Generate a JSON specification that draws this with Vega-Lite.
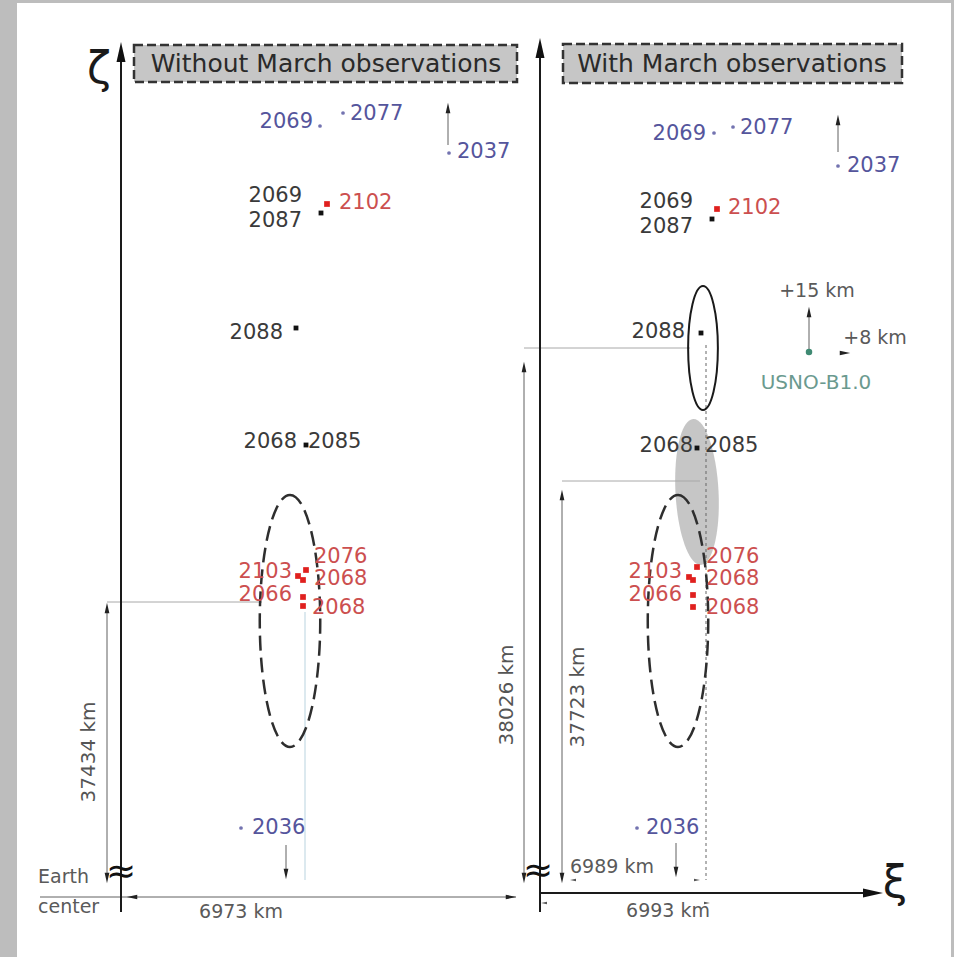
{
  "$schema": "https://vega.github.io/schema/vega-lite/v6.json",
  "width": 954,
  "height": 957,
  "autosize": {"type": "fit", "contains": "padding"},
  "padding": {"left": 17, "top": 3, "right": 3, "bottom": 0},
  "background": "#bdbdbd",
  "config": {"view": {"stroke": null, "fill": "#ffffff"}, "font": "DejaVu Sans"},
  "datasets": {
    "blob": [{"x": 697, "y": 492}],
    "guides": [
      {"x": 107, "y": 602, "x2": 262, "y2": 602},
      {"x": 524, "y": 348, "x2": 690, "y2": 348},
      {"x": 562, "y": 481, "x2": 700, "y2": 481}
    ],
    "dotted": [
      {"x": 706, "y": 345, "x2": 706, "y2": 880}
    ],
    "faint": [
      {"x": 305, "y": 612, "x2": 305, "y2": 880}
    ],
    "axes": [
      {"x": 121, "y": 60, "x2": 121, "y2": 912},
      {"x": 540, "y": 56, "x2": 540, "y2": 912},
      {"x": 540, "y": 893, "x2": 873, "y2": 893}
    ],
    "dims": [
      {"x": 107, "y": 608, "x2": 107, "y2": 878},
      {"x": 524, "y": 367, "x2": 524, "y2": 878},
      {"x": 562, "y": 495, "x2": 562, "y2": 878},
      {"x": 40, "y": 897, "x2": 516, "y2": 897},
      {"x": 448, "y": 108, "x2": 448, "y2": 145},
      {"x": 838, "y": 120, "x2": 838, "y2": 152},
      {"x": 286, "y": 845, "x2": 286, "y2": 874},
      {"x": 676, "y": 843, "x2": 676, "y2": 872},
      {"x": 809, "y": 312, "x2": 809, "y2": 352}
    ],
    "dashedEllipses": [{"x": 290, "y": 621}, {"x": 678, "y": 621}],
    "solidEllipse": [{"x": 703, "y": 348}],
    "boxes": [
      {"x": 134, "y": 45, "x2": 517, "y2": 82, "text": "Without March observations", "cx": 326, "cy": 64},
      {"x": 563, "y": 44, "x2": 902, "y2": 83, "text": "With March observations", "cx": 732, "cy": 64}
    ],
    "axisHeads": [
      {"x": 121, "y": 52, "dir": "up"},
      {"x": 540, "y": 48, "dir": "up"},
      {"x": 873, "y": 893, "dir": "right"}
    ],
    "dimHeads": [
      {"x": 107, "y": 608, "dir": "up"},
      {"x": 107, "y": 878, "dir": "down"},
      {"x": 524, "y": 367, "dir": "up"},
      {"x": 524, "y": 878, "dir": "down"},
      {"x": 562, "y": 495, "dir": "up"},
      {"x": 562, "y": 878, "dir": "down"},
      {"x": 132, "y": 897, "dir": "left"},
      {"x": 511, "y": 897, "dir": "right"},
      {"x": 448, "y": 108, "dir": "up"},
      {"x": 838, "y": 120, "dir": "up"},
      {"x": 286, "y": 874, "dir": "down"},
      {"x": 676, "y": 872, "dir": "down"},
      {"x": 809, "y": 312, "dir": "up"},
      {"x": 845, "y": 353, "dir": "right"}
    ],
    "tinyHeads": [
      {"x": 573, "y": 880, "dir": "left"},
      {"x": 697, "y": 880, "dir": "right"},
      {"x": 544, "y": 903, "dir": "left"},
      {"x": 707, "y": 903, "dir": "right"}
    ],
    "pts": [
      {"x": 320, "y": 126, "set": "blue"},
      {"x": 343, "y": 113, "set": "blue"},
      {"x": 449, "y": 153, "set": "blue"},
      {"x": 241, "y": 828, "set": "blue"},
      {"x": 714, "y": 133, "set": "blue"},
      {"x": 733, "y": 127, "set": "blue"},
      {"x": 838, "y": 166, "set": "blue"},
      {"x": 637, "y": 828, "set": "blue"},
      {"x": 321, "y": 213, "set": "black"},
      {"x": 296, "y": 328, "set": "black"},
      {"x": 306, "y": 445, "set": "black"},
      {"x": 712, "y": 219, "set": "black"},
      {"x": 701, "y": 333, "set": "black"},
      {"x": 697, "y": 448, "set": "black"},
      {"x": 327, "y": 204, "set": "red"},
      {"x": 298, "y": 576, "set": "red"},
      {"x": 306, "y": 570, "set": "red"},
      {"x": 303, "y": 580, "set": "red"},
      {"x": 303, "y": 597, "set": "red"},
      {"x": 303, "y": 606, "set": "red"},
      {"x": 717, "y": 209, "set": "red"},
      {"x": 689, "y": 577, "set": "red"},
      {"x": 697, "y": 567, "set": "red"},
      {"x": 693, "y": 580, "set": "red"},
      {"x": 693, "y": 595, "set": "red"},
      {"x": 693, "y": 607, "set": "red"},
      {"x": 809, "y": 352, "set": "green"}
    ],
    "labelsLeftOf": [
      {"x": 313, "y": 122, "text": "2069", "set": "blue"},
      {"x": 706, "y": 134, "text": "2069", "set": "blue"},
      {"x": 302, "y": 196, "text": "2069", "set": "black"},
      {"x": 302, "y": 221, "text": "2087", "set": "black"},
      {"x": 693, "y": 202, "text": "2069", "set": "black"},
      {"x": 693, "y": 227, "text": "2087", "set": "black"},
      {"x": 283, "y": 333, "text": "2088", "set": "black"},
      {"x": 685, "y": 332, "text": "2088", "set": "black"},
      {"x": 297, "y": 442, "text": "2068", "set": "black"},
      {"x": 693, "y": 446, "text": "2068", "set": "black"},
      {"x": 292, "y": 572, "text": "2103", "set": "red"},
      {"x": 292, "y": 595, "text": "2066", "set": "red"},
      {"x": 682, "y": 572, "text": "2103", "set": "red"},
      {"x": 682, "y": 595, "text": "2066", "set": "red"}
    ],
    "labelsRightOf": [
      {"x": 350, "y": 114, "text": "2077", "set": "blue"},
      {"x": 457, "y": 152, "text": "2037", "set": "blue"},
      {"x": 740, "y": 128, "text": "2077", "set": "blue"},
      {"x": 847, "y": 166, "text": "2037", "set": "blue"},
      {"x": 252, "y": 828, "text": "2036", "set": "blue"},
      {"x": 646, "y": 828, "text": "2036", "set": "blue"},
      {"x": 308, "y": 442, "text": "2085", "set": "black"},
      {"x": 705, "y": 446, "text": "2085", "set": "black"},
      {"x": 339, "y": 203, "text": "2102", "set": "red"},
      {"x": 728, "y": 208, "text": "2102", "set": "red"},
      {"x": 314, "y": 557, "text": "2076", "set": "red"},
      {"x": 314, "y": 579, "text": "2068", "set": "red"},
      {"x": 312, "y": 608, "text": "2068", "set": "red"},
      {"x": 706, "y": 557, "text": "2076", "set": "red"},
      {"x": 706, "y": 579, "text": "2068", "set": "red"},
      {"x": 706, "y": 608, "text": "2068", "set": "red"}
    ],
    "notesLeft": [
      {"x": 38, "y": 877, "text": "Earth"},
      {"x": 38, "y": 907, "text": "center"},
      {"x": 570, "y": 867, "text": "6989 km"}
    ],
    "notesCenter": [
      {"x": 241, "y": 912, "text": "6973 km"},
      {"x": 668, "y": 911, "text": "6993 km"},
      {"x": 817, "y": 291, "text": "+15 km"},
      {"x": 875, "y": 338, "text": "+8 km"}
    ],
    "usno": [{"x": 816, "y": 383, "text": "USNO-B1.0"}],
    "rotated": [
      {"x": 89, "y": 752, "text": "37434 km"},
      {"x": 507, "y": 695, "text": "38026 km"},
      {"x": 578, "y": 697, "text": "37723 km"}
    ],
    "greek": [
      {"x": 99, "y": 70, "text": "ζ"},
      {"x": 895, "y": 884, "text": "ξ"}
    ],
    "breaks": [
      {"x": 121, "y": 872, "text": "≈"},
      {"x": 538, "y": 871, "text": "≈"}
    ]
  },
  "encoding": {
    "x": {"field": "x", "type": "quantitative", "scale": {"domain": [17, 951], "nice": false, "zero": false}, "axis": null},
    "y": {"field": "y", "type": "quantitative", "scale": {"domain": [3, 957], "nice": false, "zero": false, "reverse": true}, "axis": null}
  },
  "layer": [
    {
      "data": {"name": "blob"},
      "mark": {"type": "point", "shape": "M0,-1C0.163,-1,0.295,-0.552,0.295,0C0.295,0.552,0.163,1,0,1C-0.163,1,-0.295,0.552,-0.295,0C-0.295,-0.552,-0.163,-1,0,-1Z", "size": 21316, "filled": true, "fill": "#b8b8b8", "fillOpacity": 0.8, "strokeWidth": 0, "angle": -3}
    },
    {
      "data": {"name": "guides"},
      "mark": {"type": "rule", "color": "#a8a8a8", "strokeWidth": 1},
      "encoding": {"x2": {"field": "x2"}, "y2": {"field": "y2"}}
    },
    {
      "data": {"name": "dotted"},
      "mark": {"type": "rule", "color": "#666666", "strokeWidth": 1, "strokeDash": [3, 3]},
      "encoding": {"x2": {"field": "x2"}, "y2": {"field": "y2"}}
    },
    {
      "data": {"name": "faint"},
      "mark": {"type": "rule", "color": "#d0e2ea", "strokeWidth": 1.5},
      "encoding": {"x2": {"field": "x2"}, "y2": {"field": "y2"}}
    },
    {
      "data": {"name": "dims"},
      "mark": {"type": "rule", "color": "#606060", "strokeWidth": 1},
      "encoding": {"x2": {"field": "x2"}, "y2": {"field": "y2"}}
    },
    {
      "data": {"name": "axes"},
      "mark": {"type": "rule", "color": "#1a1a1a", "strokeWidth": 2},
      "encoding": {"x2": {"field": "x2"}, "y2": {"field": "y2"}}
    },
    {
      "data": {"name": "dashedEllipses"},
      "mark": {"type": "point", "shape": "M0,-1C0.1325,-1,0.24,-0.552,0.24,0C0.24,0.552,0.1325,1,0,1C-0.1325,1,-0.24,0.552,-0.24,0C-0.24,-0.552,-0.1325,-1,0,-1Z", "size": 63504, "filled": false, "stroke": "#2e2e2e", "strokeWidth": 2.5, "strokeDash": [15, 7], "opacity": 1}
    },
    {
      "data": {"name": "solidEllipse"},
      "mark": {"type": "point", "shape": "M0,-1C0.1325,-1,0.24,-0.552,0.24,0C0.24,0.552,0.1325,1,0,1C-0.1325,1,-0.24,0.552,-0.24,0C-0.24,-0.552,-0.1325,-1,0,-1Z", "size": 15376, "filled": false, "stroke": "#1a1a1a", "strokeWidth": 2, "opacity": 1}
    },
    {
      "data": {"name": "boxes"},
      "mark": {"type": "rect", "fill": "#c6c6c6", "stroke": "#333333", "strokeWidth": 2.5, "strokeDash": [9, 4]},
      "encoding": {"x2": {"field": "x2"}, "y2": {"field": "y2"}}
    },
    {
      "data": {"name": "boxes"},
      "mark": {"type": "text", "fontSize": 25, "color": "#2a2a2a", "align": "center", "baseline": "middle"},
      "encoding": {"x": {"field": "cx", "type": "quantitative"}, "y": {"field": "cy", "type": "quantitative"}, "text": {"field": "text"}}
    },
    {
      "data": {"name": "axisHeads"},
      "mark": {"type": "point", "filled": true, "size": 400, "color": "#111111", "opacity": 1},
      "encoding": {"shape": {"field": "dir", "type": "nominal", "legend": null, "scale": {"domain": ["up", "down", "left", "right"], "range": ["M0,-1L0.45,1L-0.45,1Z", "M0,1L0.45,-1L-0.45,-1Z", "M-1,0L1,-0.45L1,0.45Z", "M1,0L-1,-0.45L-1,0.45Z"]}}}
    },
    {
      "data": {"name": "dimHeads"},
      "mark": {"type": "point", "filled": true, "size": 110, "color": "#222222", "opacity": 1},
      "encoding": {"shape": {"field": "dir", "type": "nominal", "legend": null, "scale": {"domain": ["up", "down", "left", "right"], "range": ["M0,-1L0.45,1L-0.45,1Z", "M0,1L0.45,-1L-0.45,-1Z", "M-1,0L1,-0.45L1,0.45Z", "M1,0L-1,-0.45L-1,0.45Z"]}}}
    },
    {
      "data": {"name": "tinyHeads"},
      "mark": {"type": "point", "filled": true, "size": 36, "color": "#555555", "opacity": 1},
      "encoding": {"shape": {"field": "dir", "type": "nominal", "legend": null, "scale": {"domain": ["up", "down", "left", "right"], "range": ["M0,-1L0.45,1L-0.45,1Z", "M0,1L0.45,-1L-0.45,-1Z", "M-1,0L1,-0.45L1,0.45Z", "M1,0L-1,-0.45L-1,0.45Z"]}}}
    },
    {
      "data": {"name": "pts"},
      "mark": {"type": "point", "filled": true, "opacity": 1},
      "encoding": {
        "color": {"field": "set", "type": "nominal", "legend": null, "scale": {"domain": ["blue", "black", "red", "green"], "range": ["#7373b0", "#111111", "#e0201e", "#3f8a73"]}},
        "shape": {"field": "set", "type": "nominal", "legend": null, "scale": {"domain": ["blue", "black", "red", "green"], "range": ["circle", "square", "square", "circle"]}},
        "size": {"field": "set", "type": "nominal", "legend": null, "scale": {"domain": ["blue", "black", "red", "green"], "range": [14, 42, 48, 50]}}
      }
    },
    {
      "data": {"name": "labelsLeftOf"},
      "mark": {"type": "text", "fontSize": 21, "align": "right", "baseline": "middle"},
      "encoding": {
        "text": {"field": "text"},
        "color": {"field": "set", "type": "nominal", "legend": null, "scale": {"domain": ["blue", "black", "red"], "range": ["#55559c", "#3a3a3a", "#cc4f4f"]}}
      }
    },
    {
      "data": {"name": "labelsRightOf"},
      "mark": {"type": "text", "fontSize": 21, "align": "left", "baseline": "middle"},
      "encoding": {
        "text": {"field": "text"},
        "color": {"field": "set", "type": "nominal", "legend": null, "scale": {"domain": ["blue", "black", "red"], "range": ["#55559c", "#3a3a3a", "#cc4f4f"]}}
      }
    },
    {
      "data": {"name": "notesLeft"},
      "mark": {"type": "text", "fontSize": 19, "align": "left", "baseline": "middle", "color": "#5a5a5a"},
      "encoding": {"text": {"field": "text"}}
    },
    {
      "data": {"name": "notesCenter"},
      "mark": {"type": "text", "fontSize": 19, "align": "center", "baseline": "middle", "color": "#5a5a5a"},
      "encoding": {"text": {"field": "text"}}
    },
    {
      "data": {"name": "usno"},
      "mark": {"type": "text", "fontSize": 20, "align": "center", "baseline": "middle", "color": "#6b9a8f"},
      "encoding": {"text": {"field": "text"}}
    },
    {
      "data": {"name": "rotated"},
      "mark": {"type": "text", "fontSize": 20, "align": "center", "baseline": "middle", "angle": 270, "color": "#555555"},
      "encoding": {"text": {"field": "text"}}
    },
    {
      "data": {"name": "greek"},
      "mark": {"type": "text", "fontSize": 44, "align": "center", "baseline": "middle", "color": "#1a1a1a"},
      "encoding": {"text": {"field": "text"}}
    },
    {
      "data": {"name": "breaks"},
      "mark": {"type": "text", "fontSize": 36, "align": "center", "baseline": "middle", "color": "#111111"},
      "encoding": {"text": {"field": "text"}}
    }
  ],
  "resolve": {"scale": {"color": "independent", "shape": "independent", "size": "independent"}}
}
